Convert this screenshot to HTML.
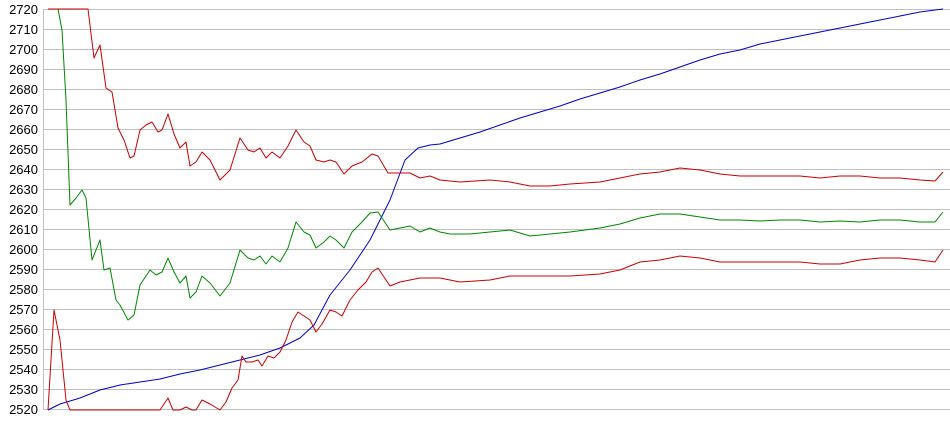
<!DOCTYPE html>
<html><head><style>body{margin:0;background:#fff}svg{display:block}text{font-family:"Liberation Sans",Arial,sans-serif;font-size:13px;fill:#000}</style></head>
<body>
<svg width="950" height="435" viewBox="0 0 950 435">
<g stroke="#c0c0c0" stroke-width="1">
<line x1="43" y1="9.5" x2="950" y2="9.5"/><line x1="43" y1="29.5" x2="950" y2="29.5"/><line x1="43" y1="49.5" x2="950" y2="49.5"/><line x1="43" y1="69.5" x2="950" y2="69.5"/><line x1="43" y1="89.5" x2="950" y2="89.5"/><line x1="43" y1="109.5" x2="950" y2="109.5"/><line x1="43" y1="129.5" x2="950" y2="129.5"/><line x1="43" y1="149.5" x2="950" y2="149.5"/><line x1="43" y1="169.5" x2="950" y2="169.5"/><line x1="43" y1="189.5" x2="950" y2="189.5"/><line x1="43" y1="209.5" x2="950" y2="209.5"/><line x1="43" y1="229.5" x2="950" y2="229.5"/><line x1="43" y1="249.5" x2="950" y2="249.5"/><line x1="43" y1="269.5" x2="950" y2="269.5"/><line x1="43" y1="289.5" x2="950" y2="289.5"/><line x1="43" y1="309.5" x2="950" y2="309.5"/><line x1="43" y1="329.5" x2="950" y2="329.5"/><line x1="43" y1="349.5" x2="950" y2="349.5"/><line x1="43" y1="369.5" x2="950" y2="369.5"/><line x1="43" y1="389.5" x2="950" y2="389.5"/><line x1="43" y1="409.5" x2="950" y2="409.5"/>
<line x1="43.5" y1="9" x2="43.5" y2="410"/>
</g>
<g text-anchor="end">
<text x="38" y="14">2720</text><text x="38" y="34">2710</text><text x="38" y="54">2700</text><text x="38" y="74">2690</text><text x="38" y="94">2680</text><text x="38" y="114">2670</text><text x="38" y="134">2660</text><text x="38" y="154">2650</text><text x="38" y="174">2640</text><text x="38" y="194">2630</text><text x="38" y="214">2620</text><text x="38" y="234">2610</text><text x="38" y="254">2600</text><text x="38" y="274">2590</text><text x="38" y="294">2580</text><text x="38" y="314">2570</text><text x="38" y="334">2560</text><text x="38" y="354">2550</text><text x="38" y="374">2540</text><text x="38" y="394">2530</text><text x="38" y="414">2520</text>
</g>
<g fill="none" stroke-width="1" stroke-linejoin="round">
<polyline stroke="#0000cc" points="48,410 60,404 80,398 100,390 120,385 140,382 160,379 180,374 200,370 220,365 240,360 260,355 280,348 300,338 314,325 330,295 350,270 370,240 390,200 405,160 418,148 430,145 440,144 460,138 480,132 500,125 520,118 540,112 560,106 580,99 600,93 620,87 640,80 660,74 680,67 700,60 720,54 740,50 760,44 780,40 800,36 820,32 840,28 860,24 880,20 900,16 920,12 943,9"/>
<polyline stroke="#008800" points="48,9 58,9 62,30 66,100 70,205 76,198 82,190 86,198 92,260 100,240 104,270 110,268 116,300 120,305 128,320 134,315 140,285 150,270 156,275 162,272 168,258 174,272 180,283 186,276 190,298 196,292 202,276 210,283 220,296 230,283 240,250 248,258 254,260 260,256 266,264 272,256 280,262 288,248 296,222 304,232 310,235 316,248 324,242 330,236 336,240 344,248 352,232 362,222 370,213 378,212 390,230 400,228 410,226 420,232 430,228 440,232 450,234 470,234 490,232 510,230 530,236 550,234 570,232 600,228 620,224 640,218 660,214 680,214 700,217 720,220 740,220 760,221 780,220 800,220 820,222 840,221 860,222 880,220 900,220 920,222 935,222 943,212"/>
<polyline stroke="#cc0000" points="48,9 88,9 94,58 100,45 106,88 112,92 118,128 124,140 130,158 134,156 140,130 146,125 152,122 158,132 162,130 168,114 174,134 180,148 186,142 190,166 196,162 202,152 210,160 220,180 230,170 240,138 248,150 254,152 260,148 266,158 272,152 280,158 288,146 296,130 304,142 310,146 316,160 324,162 330,160 336,162 344,174 352,166 362,162 372,154 378,156 388,173 410,173 420,178 430,176 440,180 460,182 490,180 510,182 530,186 550,186 570,184 600,182 620,178 640,174 660,172 680,168 700,170 720,174 740,176 760,176 780,176 800,176 820,178 840,176 860,176 880,178 900,178 920,180 935,181 943,172"/>
<polyline stroke="#cc0000" points="48,410 54,310 60,340 66,400 70,410 160,410 168,398 173,410 180,410 186,407 192,410 196,410 202,400 210,404 220,410 226,402 232,388 238,380 242,356 246,362 252,362 258,360 262,366 268,356 274,358 280,352 286,340 292,322 298,312 304,316 310,320 316,332 322,324 330,310 336,312 342,316 350,300 358,290 366,282 372,272 378,268 390,286 400,282 410,280 420,278 440,278 460,282 490,280 510,276 530,276 550,276 570,276 600,274 620,270 640,262 660,260 680,256 700,258 720,262 740,262 760,262 780,262 800,262 820,264 840,264 860,260 880,258 900,258 920,260 935,262 943,250"/>
</g>
</svg>
</body></html>
